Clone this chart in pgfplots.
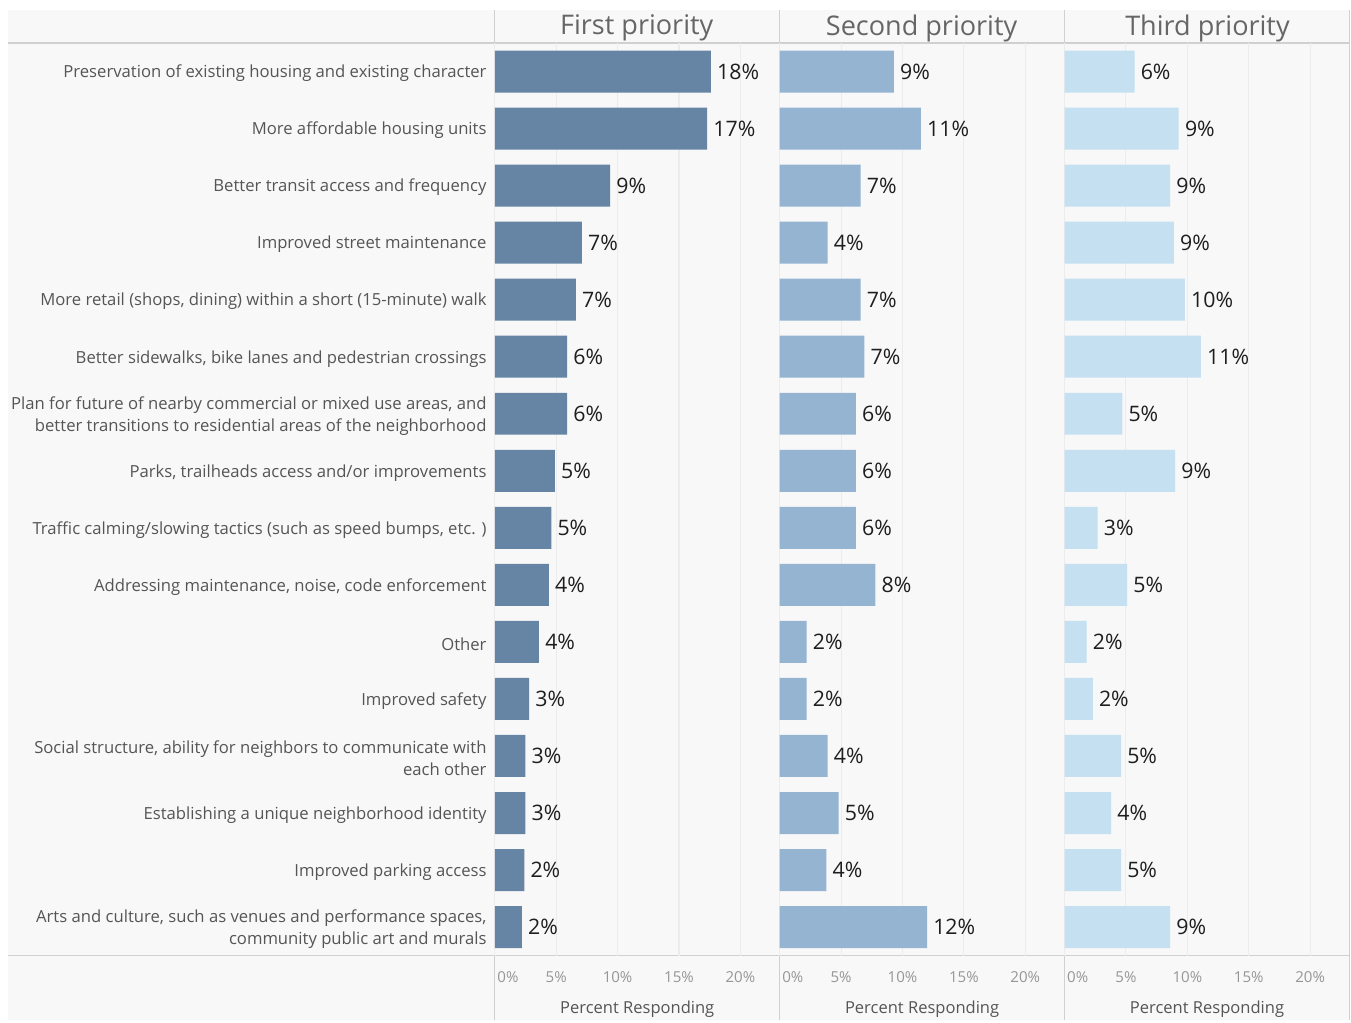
\documentclass[border=0pt]{standalone}
\usepackage{fontspec}
\setmainfont{Open Sans}
\usepackage{pgfplots}
\pgfplotsset{compat=1.18}
\usepackage{pgfplotstable}

\definecolor{c1}{RGB}{102,133,165}
\definecolor{c2}{RGB}{148,180,210}
\definecolor{c3}{RGB}{197,224,241}
\definecolor{bgc}{RGB}{248,248,248}
\definecolor{gridc}{RGB}{236,236,236}
\definecolor{linec}{RGB}{208,208,208}
\definecolor{labc}{RGB}{85,85,85}
\definecolor{headc}{RGB}{102,102,102}
\definecolor{tickc}{RGB}{150,150,150}
\definecolor{valc}{RGB}{30,30,30}

\pgfplotstableread{
idx v1 l1 v2 l2 v3 l3
0 17.6 18 9.3 9 5.7 6
1 17.3 17 11.5 11 9.3 9
2 9.4 9 6.6 7 8.6 9
3 7.1 7 3.9 4 8.9 9
4 6.6 7 6.6 7 9.8 10
5 5.9 6 6.9 7 11.1 11
6 5.9 6 6.2 6 4.7 5
7 4.9 5 6.2 6 9.0 9
8 4.6 5 6.2 6 2.7 3
9 4.4 4 7.8 8 5.1 5
10 3.6 4 2.2 2 1.8 2
11 2.8 3 2.2 2 2.3 2
12 2.5 3 3.9 4 4.6 5
13 2.5 3 4.8 5 3.8 4
14 2.4 2 3.8 4 4.6 5
15 2.2 2 12.0 12 8.6 9
}\data

\pgfplotsset{
  panel/.style={
    scale only axis, width=213.75pt, height=684.75pt,
    anchor=north west,
    xmin=0, xmax=23.2, ymin=-0.5, ymax=15.5, y dir=reverse,
    axis line style={draw=none},
    xtick={0,5,10,15,20},
    xticklabels={\makebox[0pt][l]{\hspace{2pt}0\%},5\%,10\%,15\%,20\%},
    xmajorgrids, grid style={color=gridc, line width=0.8pt},
    major tick length=0pt,
    xticklabel style={font=\fontsize{11.3}{13}\selectfont, text=tickc, anchor=center, yshift=-16pt},
    xlabel={Percent Responding},
    xlabel style={at={(axis description cs:0.5,0)}, anchor=center, yshift=-40.5pt,
      font=\fontsize{12.4}{14}\selectfont, text=labc},
    point meta=explicit symbolic,
    nodes near coords={\pgfplotspointmeta\%},
    nodes near coords style={anchor=west, inner sep=0pt, xshift=4.5pt,
      font=\fontsize{16}{18}\selectfont, text=valc},
    ytick=\empty,
  }
}

\begin{document}
\begin{tikzpicture}
\begin{scope}[x=0.75pt,y=-0.75pt]
  \path (0,0) rectangle (1351,1020);
  \fill[bgc] (8,10) rectangle (1351,1020);
  \draw[linec, line width=0.9pt] (8,43) -- (1351,43);
  \draw[linec, line width=0.9pt] (8,956) -- (1351,956);
  \foreach \xx in {495,780,1065,1350}
    \draw[linec, line width=0.9pt] (\xx,10) -- (\xx,1020);
  \node[font=\fontsize{20.3}{22}\selectfont, text=headc] at (637,28) {First priority};
  \node[font=\fontsize{20.3}{22}\selectfont, text=headc] at (922,28) {Second priority};
  \node[font=\fontsize{20.3}{22}\selectfont, text=headc] at (1208,28) {Third priority};
\end{scope}

\begin{axis}[panel, at={(371.25pt,-32.25pt)},
  ytick={0,...,15},
  yticklabels={
    Preservation of existing housing and existing character,
    More affordable housing units,
    Better transit access and frequency,
    Improved street maintenance,
    {More retail (shops, dining) within a short (15-minute) walk},
    {Better sidewalks, bike lanes and pedestrian crossings},
    {Plan for future of nearby commercial or mixed use areas, and\\better transitions to residential areas of the neighborhood},
    {Parks, trailheads access and/or improvements},
    {Traffic calming/slowing tactics (such as speed bumps, etc. )},
    {Addressing maintenance, noise, code enforcement},
    Other,
    Improved safety,
    {Social structure, ability for neighbors to communicate with\\each other},
    Establishing a unique neighborhood identity,
    Improved parking access,
    {Arts and culture, such as venues and performance spaces,\\community public art and murals}
  },
  yticklabel style={align=right, anchor=east, inner sep=0pt, xshift=-6pt, yshift=-1.5pt,
    font=\fontsize{12.5}{16.5}\selectfont, text=labc},
]
\addplot[xbar, bar width=31.5pt, fill=c1, draw=none] table[x=v1, y=idx, meta=l1] {\data};
\end{axis}

\begin{axis}[panel, at={(585pt,-32.25pt)}]
\addplot[xbar, bar width=31.5pt, fill=c2, draw=none] table[x=v2, y=idx, meta=l2] {\data};
\end{axis}

\begin{axis}[panel, at={(798.75pt,-32.25pt)}]
\addplot[xbar, bar width=31.5pt, fill=c3, draw=none] table[x=v3, y=idx, meta=l3] {\data};
\end{axis}
\end{tikzpicture}
\end{document}
